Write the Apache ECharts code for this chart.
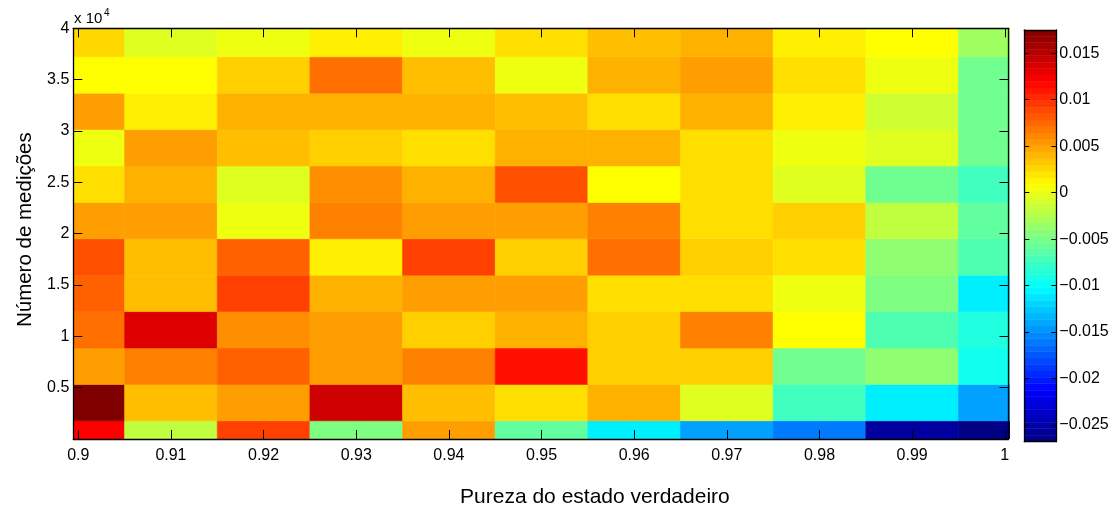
<!DOCTYPE html>
<html>
<head>
<meta charset="utf-8">
<script src="https://cdn.jsdelivr.net/npm/echarts@6/dist/echarts.min.js"></script>
<style>
  html, body { margin: 0; padding: 0; background: #fff; }
  #chart { width: 1116px; height: 513px; }
</style>
</head>
<body>
<div id="chart"></div>
<script>
// ---- data ----
const xCenters = [0.90, 0.91, 0.92, 0.93, 0.94, 0.95, 0.96, 0.97, 0.98, 0.99, 1.00];
const yCenters = [0, 3545, 7091, 10636, 14182, 17727, 21273, 24818, 28364, 31909, 35455, 39000];

// one row per number of measurements (bottom to top), one value per purity
const row_y0     = [0.0120, -0.0019, 0.0092, -0.0047, 0.0051, -0.0060, -0.0109, -0.0143, -0.0160, -0.0255, -0.0266];
const row_y3545  = [0.0175, 0.0037, 0.0051, 0.0141, 0.0037, 0.0023, 0.0043, -0.0005, -0.0074, -0.0109, -0.0143];
const row_y7091  = [0.0051, 0.0064, 0.0078, 0.0051, 0.0064, 0.0113, 0.0030, 0.0030, -0.0053, -0.0040, -0.0095];
const row_y10636 = [0.0071, 0.0134, 0.0058, 0.0051, 0.0030, 0.0043, 0.0030, 0.0064, 0.0009, -0.0068, -0.0088];
const row_y14182 = [0.0078, 0.0037, 0.0092, 0.0043, 0.0051, 0.0051, 0.0023, 0.0023, 0.0002, -0.0047, -0.0109];
const row_y17727 = [0.0085, 0.0037, 0.0078, 0.0016, 0.0092, 0.0030, 0.0071, 0.0030, 0.0023, -0.0040, -0.0068];
const row_y21273 = [0.0051, 0.0051, 0.0002, 0.0064, 0.0051, 0.0051, 0.0064, 0.0023, 0.0030, -0.0019, -0.0060];
const row_y24818 = [0.0023, 0.0043, -0.0005, 0.0058, 0.0043, 0.0085, 0.0009, 0.0023, -0.0005, -0.0054, -0.0074];
const row_y28364 = [0.0002, 0.0051, 0.0037, 0.0030, 0.0023, 0.0043, 0.0043, 0.0023, 0.0002, -0.0005, -0.0053];
const row_y31909 = [0.0051, 0.0016, 0.0043, 0.0043, 0.0043, 0.0037, 0.0023, 0.0043, 0.0016, -0.0012, -0.0053];
const row_y35455 = [0.0009, 0.0009, 0.0030, 0.0071, 0.0037, 0.0002, 0.0043, 0.0051, 0.0023, 0.0002, -0.0053];
const row_y39000 = [0.0026, -0.0005, 0.0002, 0.0016, 0.0002, 0.0023, 0.0037, 0.0043, 0.0016, 0.0009, -0.0033];

const xTicks = [0.90, 0.91, 0.92, 0.93, 0.94, 0.95, 0.96, 0.97, 0.98, 0.99, 1.00];
const yTicks = [5000, 10000, 15000, 20000, 25000, 30000, 35000, 40000];
const cbTicks = [-0.025, -0.02, -0.015, -0.01, -0.005, 0, 0.005, 0.01, 0.015];
const colorMin = -0.0268;
const colorMax = 0.0175;

// ---- build ----
const rows = [row_y0, row_y3545, row_y7091, row_y10636, row_y14182, row_y17727,
              row_y21273, row_y24818, row_y28364, row_y31909, row_y35455, row_y39000];
const cells = [];
rows.forEach((row, j) => row.forEach((v, i) => cells.push([xCenters[i], yCenters[j], v])));

const dx = xCenters[1] - xCenters[0];
const dy = yCenters[1] - yCenters[0];

// colour bar bands (jet with 64 levels)
const nBands = 64;
const bands = [];
for (let k = 0; k < nBands; k++) {
  const lo = colorMin + (colorMax - colorMin) * k / nBands;
  const hi = colorMin + (colorMax - colorMin) * (k + 1) / nBands;
  bands.push([0.5, (lo + hi) / 2, (lo + hi) / 2, lo, hi]);
}

const FONT = "'Liberation Sans', Arial, Helvetica, sans-serif";
const black = '#000';
const lineW = 1.3;

const chart = echarts.init(document.getElementById('chart'), null, { renderer: 'canvas' });

const baseAxis = {
  z: 5,
  splitLine: { show: false },
  axisLine: { show: true, onZero: false, lineStyle: { color: black, width: lineW } }
};

chart.setOption({
  animation: false,
  backgroundColor: '#fff',
  grid: [
    { left: 73.3, top: 28.3, width: 935.2, height: 413.4, containLabel: false },
    { left: 1024.3, top: 30, width: 32, height: 411.7, containLabel: false }
  ],
  visualMap: {
    type: 'continuous',
    show: false,
    seriesIndex: [0, 1],
    dimension: 2,
    min: colorMin,
    max: colorMax,
    inRange: {
      color: ['#000080', '#0000FF', '#0080FF', '#00FFFF', '#80FF80', '#FFFF00', '#FF8000', '#FF0000', '#800000']
    }
  },
  xAxis: [
    Object.assign({}, baseAxis, {
      type: 'value', gridIndex: 0, position: 'bottom',
      min: 0.89946, max: 1.0004,
      axisTick: { show: true, inside: true, length: 9, customValues: xTicks, lineStyle: { color: black, width: 1 } },
      axisLabel: {
        show: true, customValues: xTicks, margin: 9,
        color: black, fontSize: 16, fontFamily: FONT,
        formatter: v => String(+v.toFixed(2))
      },
      name: 'Pureza do estado verdadeiro',
      nameLocation: 'middle', nameGap: 48,
      nameTextStyle: { color: black, fontSize: 21, fontFamily: FONT, padding: [0, 0, 0, 108] }
    }),
    Object.assign({}, baseAxis, {
      type: 'value', gridIndex: 0, position: 'top',
      min: 0.89946, max: 1.0004,
      axisTick: { show: true, inside: true, length: 9, customValues: xTicks, lineStyle: { color: black, width: 1 } },
      axisLabel: { show: false }
    }),
    Object.assign({}, baseAxis, {
      type: 'value', gridIndex: 1, position: 'bottom', min: 0, max: 1,
      axisTick: { show: false }, axisLabel: { show: false }
    }),
    Object.assign({}, baseAxis, {
      type: 'value', gridIndex: 1, position: 'top', min: 0, max: 1,
      axisTick: { show: false }, axisLabel: { show: false }
    })
  ],
  yAxis: [
    Object.assign({}, baseAxis, {
      type: 'value', gridIndex: 0, position: 'left',
      min: 0, max: 40000,
      axisTick: { show: true, inside: true, length: 9, customValues: yTicks, lineStyle: { color: black, width: 1 } },
      axisLabel: {
        show: true, customValues: yTicks, margin: 4,
        color: black, fontSize: 16, fontFamily: FONT,
        formatter: v => String(+(v / 10000).toFixed(1))
      },
      name: 'Número de medições',
      nameLocation: 'middle', nameGap: 37, nameRotate: 90,
      nameTextStyle: { color: black, fontSize: 20.5, fontFamily: FONT, padding: [0, 0, 0, 8] }
    }),
    Object.assign({}, baseAxis, {
      type: 'value', gridIndex: 0, position: 'right',
      min: 0, max: 40000,
      axisTick: { show: true, inside: true, length: 9, customValues: yTicks, lineStyle: { color: black, width: 1 } },
      axisLabel: { show: false }
    }),
    Object.assign({}, baseAxis, {
      type: 'value', gridIndex: 1, position: 'right',
      min: colorMin, max: colorMax,
      axisTick: { show: true, inside: true, length: 5, customValues: cbTicks, lineStyle: { color: black, width: 1 } },
      axisLabel: {
        show: true, customValues: cbTicks, margin: 3,
        color: black, fontSize: 16, fontFamily: FONT,
        formatter: v => (v < -1e-12 ? '\u2212' : '') + String(+Math.abs(v).toFixed(3))
      }
    }),
    Object.assign({}, baseAxis, {
      type: 'value', gridIndex: 1, position: 'left',
      min: colorMin, max: colorMax,
      axisTick: { show: true, inside: true, length: 5, customValues: cbTicks, lineStyle: { color: black, width: 1 } },
      axisLabel: { show: false }
    })
  ],
  graphic: [
    { type: 'text', left: 74, top: 11.5, z: 10,
      style: { text: 'x 10', font: '15px ' + FONT, fill: black } },
    { type: 'text', left: 104, top: 8, z: 10,
      style: { text: '4', font: '10px ' + FONT, fill: black } }
  ],
  series: [
    {
      type: 'custom',
      xAxisIndex: 0, yAxisIndex: 0,
      coordinateSystem: 'cartesian2d',
      clip: true,
      encode: { x: 0, y: 1 },
      data: cells,
      renderItem: function (params, api) {
        const x = api.value(0), y = api.value(1);
        const p0 = api.coord([x - dx / 2, y - dy / 2]);
        const p1 = api.coord([x + dx / 2, y + dy / 2]);
        const c = api.visual('color');
        return {
          type: 'rect',
          shape: { x: p0[0], y: p1[1], width: p1[0] - p0[0], height: p0[1] - p1[1] },
          style: { fill: c, stroke: c, lineWidth: 0.6 }
        };
      },
      z: 1
    },
    {
      type: 'custom',
      xAxisIndex: 2, yAxisIndex: 2,
      coordinateSystem: 'cartesian2d',
      clip: true,
      encode: { x: 0, y: 1 },
      data: bands,
      renderItem: function (params, api) {
        const lo = api.value(3), hi = api.value(4);
        const p0 = api.coord([0, lo]);
        const p1 = api.coord([1, hi]);
        const c = api.visual('color');
        return {
          type: 'rect',
          shape: { x: p0[0], y: p1[1], width: p1[0] - p0[0], height: p0[1] - p1[1] },
          style: { fill: c, stroke: c, lineWidth: 0.5 }
        };
      },
      z: 1
    }
  ]
});
</script>
</body>
</html>
